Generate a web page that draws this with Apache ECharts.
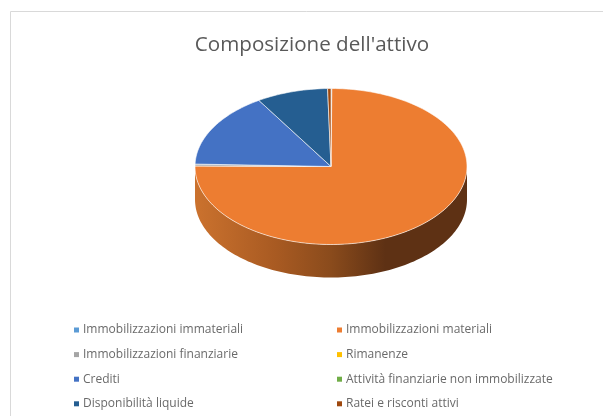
<!DOCTYPE html>
<html>
<head>
<meta charset="utf-8">
<style>
  html, body { margin: 0; padding: 0; background: #fff; }
  #chart { width: 603px; height: 416px; }
</style>
</head>
<body>
<div id="chart"></div>
<script src="https://cdn.jsdelivr.net/npm/echarts@6/dist/echarts.min.js"></script>
<script>
// valori, in % del totale
var categories = [
  'Immobilizzazioni immateriali',
  'Immobilizzazioni materiali',
  'Immobilizzazioni finanziarie',
  'Rimanenze',
  'Crediti',
  'Attività finanziarie non immobilizzate',
  'Disponibilità liquide',
  'Ratei e risconti attivi'
]
var values = [0.1, 75.0, 0.4, 0, 15.6, 0, 8.5, 0.4]
var colors = ['#5B9BD5', '#ED7D31', '#A5A5A5', '#FFC000', '#4472C4', '#70AD47', '#255E91', '#9E480E']

var cx = 331
var cy = 166.5
var rx = 136
var ry = 78
var depth = 33

var total = values.reduce(function(a, b) { return a + b }, 0)

// angolo in gradi, in senso orario da ore 12
function point(deg, offset) {
  var r = deg * Math.PI / 180
  return [cx + rx * Math.sin(r), cy - ry * Math.cos(r) + (offset || 0)]
}

function arc(from, to, offset) {
  var pts = []
  var n = Math.max(2, Math.ceil((to - from) / 1.5))
  for (var i = 0; i <= n; i++) {
    pts.push(point(from + (to - from) * i / n, offset))
  }
  return pts
}

function renderSlice(index) {
  return function(params, api) {
    var start = 0
    for (var i = 0; i < index; i++) {
      start += values[i] / total * 360
    }
    var end = start + api.value(0) / total * 360
    var children = []
    if (end <= start) {
      return { type: 'group', children: children }
    }
    // parete laterale, visibile solo sul davanti
    var from = Math.max(start, 90)
    var to = Math.min(end, 270)
    if (to > from) {
      var wall = arc(from, to, 0).concat(arc(from, to, depth).reverse())
      children.push({
        type: 'polygon',
        shape: { points: wall },
        style: {
          fill: new echarts.graphic.LinearGradient(cx - rx, 0, cx + rx, 0, [
            { offset: 0, color: '#cb722e' },
            { offset: 0.3, color: '#a85a22' },
            { offset: 0.5, color: '#8a4b1c' },
            { offset: 0.7, color: '#5e3114' },
            { offset: 1, color: '#5e3114' }
          ], true)
        }
      })
    }
    // faccia superiore
    children.push({
      type: 'polygon',
      shape: { points: [[cx, cy]].concat(arc(start, end, 0)) },
      style: {
        fill: colors[index],
        stroke: 'rgba(255,255,255,0.75)',
        lineWidth: 0.8
      }
    })
    return { type: 'group', children: children }
  }
}

var series = categories.map(function(name, i) {
  return {
    name: name,
    type: 'custom',
    coordinateSystem: 'none',
    silent: true,
    animation: false,
    itemStyle: { color: colors[i] },
    renderItem: renderSlice(i),
    encode: { value: 0 },
    data: [[values[i]]]
  }
})

var legendStyle = {
  orient: 'vertical',
  top: 324,
  icon: 'rect',
  itemWidth: 5,
  itemHeight: 5,
  itemGap: 12.6,
  selectedMode: false,
  padding: 0,
  textStyle: {
    color: '#6a6a6a',
    fontFamily: 'Open Sans',
    fontSize: 12,
    padding: [0, 0, 0, -1]
  }
}

var chart = echarts.init(document.getElementById('chart'), null, { renderer: 'canvas' })
chart.setOption({
  animation: false,
  color: colors,
  title: {
    text: "Composizione dell'attivo",
    left: 307,
    textAlign: 'center',
    top: 30,
    textStyle: {
      color: '#595959',
      fontFamily: 'Open Sans',
      fontWeight: 'normal',
      fontSize: 20.6
    }
  },
  legend: [
    Object.assign({}, legendStyle, {
      left: 74,
      data: categories.filter(function(c, i) { return i % 2 === 0 })
    }),
    Object.assign({}, legendStyle, {
      left: 337,
      data: categories.filter(function(c, i) { return i % 2 === 1 })
    })
  ],
  graphic: [{
    type: 'polyline',
    silent: true,
    shape: { points: [[10.5, 416], [10.5, 11.5], [603, 11.5]] },
    style: { fill: null, stroke: '#d9d9d9', lineWidth: 1 }
  }],
  series: series
})
</script>
</body>
</html>
